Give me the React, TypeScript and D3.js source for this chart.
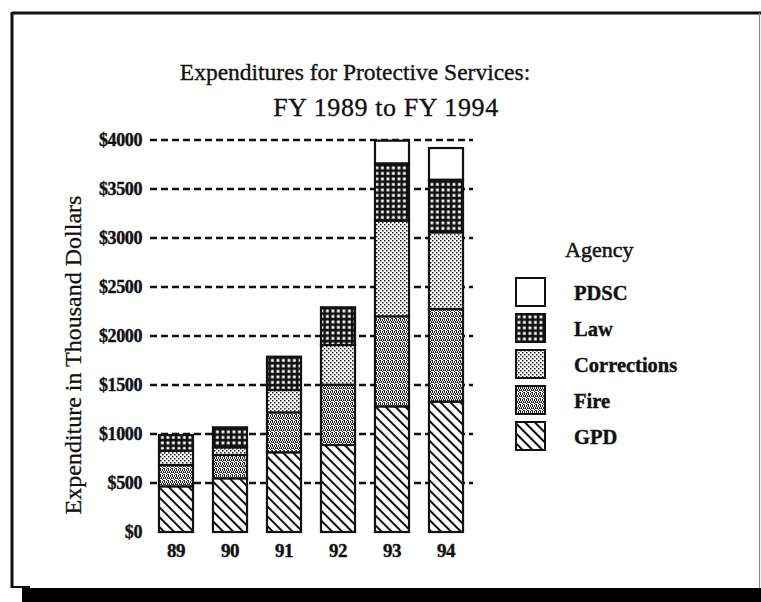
import React from "react";
import * as d3 from "d3";

const years = ["89", "90", "91", "92", "93", "94"];
const agencies = ["GPD", "Fire", "Corrections", "Law", "PDSC"];
const gpd = [466, 548, 813, 888, 1282, 1330];
const fire = [218, 238, 408, 615, 919, 946];
const corrections = [146, 78, 228, 405, 976, 782];
const law = [160, 204, 340, 385, 585, 537];
const pdsc = [0, 0, 0, 0, 231, 323];
const yTicks = [0, 500, 1000, 1500, 2000, 2500, 3000, 3500, 4000];
const legendOrder = ["PDSC", "Law", "Corrections", "Fire", "GPD"];

const W = 761;
const H = 602;
const SERIF = "'Liberation Serif', 'DejaVu Serif', 'Times New Roman', serif";

export default function App() {
  const rows = years.map((y, i) => ({
    year: y,
    GPD: gpd[i],
    Fire: fire[i],
    Corrections: corrections[i],
    Law: law[i],
    PDSC: pdsc[i],
  }));
  const stack = d3.stack<any>().keys(agencies)(rows);

  const x = d3.scaleBand<string>().domain(years).range([149, 473]).paddingInner(0.37).paddingOuter(0.185);
  const y = d3.scaleLinear().domain([0, 4000]).range([532, 140]);

  const fillFor: Record<string, string> = {
    GPD: "url(#pGPD)",
    Fire: "url(#pFire)",
    Corrections: "url(#pCorr)",
    Law: "url(#pLaw)",
    PDSC: "#ffffff",
  };

  const legendX = 516;
  const legendY0 = 278;
  const legendStep = 36;
  const ink = "#111";

  return (
    <svg
      width={W}
      height={H}
      style={{ position: "absolute", left: 0, top: 0, background: "#fff" }}
      fontFamily={SERIF}
    >
      <defs>
        <pattern id="pGPD" patternUnits="userSpaceOnUse" width="7" height="7" patternTransform="rotate(45)">
          <rect width="7" height="7" fill="#fff" />
          <rect x="0" y="0" width="7" height="2" fill="#111" />
        </pattern>
        <pattern id="pFire" patternUnits="userSpaceOnUse" width="4" height="6">
          <rect width="4" height="6" fill="#fff" />
          <rect x="0" y="0" width="1" height="3" fill="#222" />
          <rect x="2" y="1" width="1" height="2" fill="#222" />
          <rect x="1" y="3" width="1" height="2" fill="#222" />
          <rect x="3" y="3" width="1" height="2" fill="#222" />
          <rect x="2" y="5" width="1" height="1" fill="#222" />
          <rect x="3" y="0" width="1" height="1" fill="#444" />
          <rect x="0" y="4" width="1" height="1" fill="#666" />
        </pattern>
        <pattern id="pCorr" patternUnits="userSpaceOnUse" width="4" height="4">
          <rect width="4" height="4" fill="#fff" />
          <rect x="0" y="0" width="1.5" height="1.5" fill="#222" />
          <rect x="2" y="2" width="1.5" height="1.5" fill="#222" />
        </pattern>
        <pattern id="pLaw" patternUnits="userSpaceOnUse" width="5.5" height="5.5">
          <rect width="5.5" height="5.5" fill="#111" />
          <rect x="1.5" y="1.5" width="2.8" height="2.8" fill="#fff" />
        </pattern>
      </defs>

      {/* frame */}
      <line x1={12} y1={13} x2={761} y2={13} stroke={ink} strokeWidth={3} />
      <line x1={12} y1={12} x2={12} y2={588} stroke={ink} strokeWidth={3} />
      <line x1={11} y1={587} x2={30} y2={587} stroke={ink} strokeWidth={2} />
      <line x1={759.5} y1={13} x2={759.5} y2={588} stroke="#888" strokeWidth={1.2} />
      <rect x={22} y={588} width={739} height={14} fill="#000" />

      {/* titles */}
      <text x={355} y={80} textAnchor="middle" fontSize={23.5} fill={ink} stroke={ink} strokeWidth={0.35}>
        Expenditures for Protective Services:
      </text>
      <text x={386} y={116} textAnchor="middle" fontSize={26} letterSpacing={0.6} fill={ink} stroke={ink} strokeWidth={0.35}>
        FY 1989 to FY 1994
      </text>

      {/* y-axis title */}
      <text
        transform={`translate(81,355) rotate(-90)`}
        textAnchor="middle"
        fontSize={24}
        fill={ink}
        stroke={ink}
        strokeWidth={0.3}
      >
        Expenditure in Thousand Dollars
      </text>

      {/* gridlines */}
      {yTicks
        .filter((t) => t > 0)
        .map((t) => (
          <line
            key={t}
            x1={150}
            x2={473}
            y1={y(t)}
            y2={y(t)}
            stroke={ink}
            strokeWidth={2.4}
            strokeDasharray="7,4"
          />
        ))}

      {/* y tick labels */}
      {yTicks.map((t) => (
        <text
          key={t}
          x={142}
          y={y(t)}
          dy="0.34em"
          textAnchor="end"
          fontSize={18}
          fontWeight="bold"
          fill={ink}
          stroke={ink}
          strokeWidth={0.4}
          letterSpacing={-0.4}
        >
          {"$" + t}
        </text>
      ))}

      {/* bars */}
      {stack.map((s) => (
        <g key={s.key}>
          {s.map((d: any, i: number) =>
            d[1] - d[0] > 0 ? (
              <rect
                key={i}
                x={x(years[i])}
                y={y(d[1])}
                width={x.bandwidth()}
                height={y(d[0]) - y(d[1])}
                fill={fillFor[s.key]}
                stroke={ink}
                strokeWidth={2.2}
              />
            ) : null
          )}
        </g>
      ))}

      {/* x labels */}
      {years.map((yr) => (
        <text
          key={yr}
          x={(x(yr) as number) + x.bandwidth() / 2}
          y={557}
          textAnchor="middle"
          fontSize={19}
          fontWeight="bold"
          fill={ink}
          stroke={ink}
          strokeWidth={0.4}
          letterSpacing={-0.5}
        >
          {yr}
        </text>
      ))}

      {/* legend */}
      <text x={565} y={257} fontSize={22} fill={ink} stroke={ink} strokeWidth={0.5}>
        Agency
      </text>
      {legendOrder.map((k, i) => (
        <g key={k} transform={`translate(${legendX},${legendY0 + i * legendStep})`}>
          <rect x={0} y={0} width={29} height={28} fill={fillFor[k]} stroke={ink} strokeWidth={2} />
          <text x={58} y={22} fontSize={20.5} fontWeight="bold" fill={ink} stroke={ink} strokeWidth={0.4}>
            {k}
          </text>
        </g>
      ))}
    </svg>
  );
}
